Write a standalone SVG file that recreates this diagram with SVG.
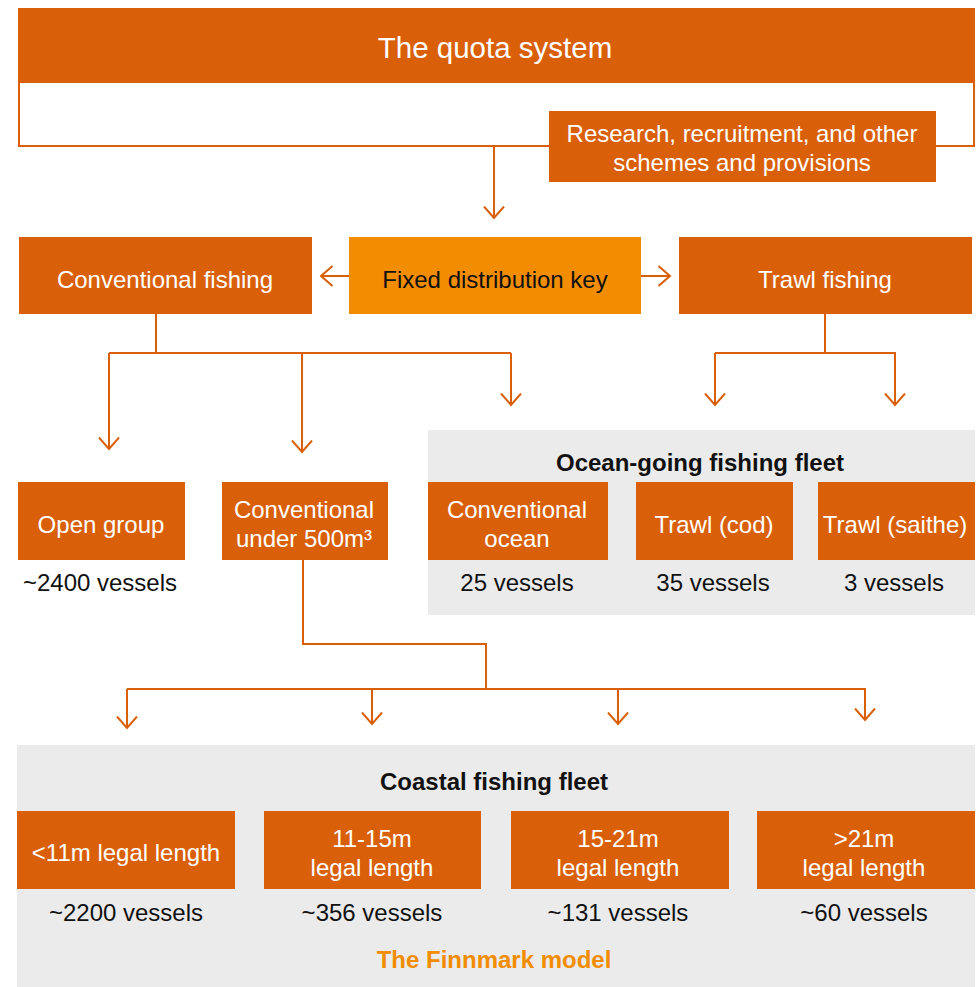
<svg xmlns="http://www.w3.org/2000/svg" width="979" height="987" viewBox="0 0 979 987">
<style>
.box{fill:#D95F09}
.key{fill:#F28C00}
.panel{fill:#EBEBEB}
.wt{fill:#ffffff;font-family:"Liberation Sans",Arial,sans-serif;font-size:24px;text-anchor:middle}
.bt{fill:#111111;font-family:"Liberation Sans",Arial,sans-serif;font-size:24px;text-anchor:middle}
.ttl{fill:#111111;font-family:"Liberation Sans",Arial,sans-serif;font-size:24px;font-weight:bold;text-anchor:middle}
.fin{fill:#F28C00;font-family:"Liberation Sans",Arial,sans-serif;font-size:24px;font-weight:bold;text-anchor:middle}
.ln{fill:none;stroke:#D95F09;stroke-width:2}
.arr{fill:none;stroke:#D95F09;stroke-width:2;marker-end:url(#ah)}
</style>
<defs>
<marker id="ah" markerUnits="userSpaceOnUse" viewBox="0 0 14 22" refX="12.5" refY="11" markerWidth="14" markerHeight="22" orient="auto">
<path d="M1,1 L12.5,11 L1,21" fill="none" stroke="#D95F09" stroke-width="2"/>
</marker>
</defs>

<g id="panel-ocean"><rect class="panel" x="428" y="430" width="547" height="185"/><text class="ttl" x="700" y="471">Ocean-going fishing fleet</text></g>
<g id="panel-coastal"><rect class="panel" x="17" y="745" width="958" height="242"/><text class="ttl" x="494" y="790">Coastal fishing fleet</text><text class="fin" x="494" y="968">The Finnmark model</text></g>

<g id="quota-system">
<rect x="19" y="9" width="955" height="137" fill="#ffffff" stroke="#D95F09" stroke-width="2"/>
<rect class="box" x="18" y="8" width="957" height="75"/>
<text class="wt" x="495" y="58" style="font-size:29.5px">The quota system</text>
</g>
<g id="research">
<rect class="box" x="549" y="111" width="387" height="71"/>
<text class="wt" x="742" y="142">Research, recruitment, and other</text>
<text class="wt" x="742" y="171">schemes and provisions</text>
</g>

<g id="conventional-fishing"><rect class="box" x="19" y="237" width="293" height="77"/><text class="wt" x="165" y="288">Conventional fishing</text></g>
<g id="fixed-key"><rect class="key" x="349" y="237" width="292" height="77"/><text class="bt" x="495" y="288">Fixed distribution key</text></g>
<g id="trawl-fishing"><rect class="box" x="679" y="237" width="293" height="77"/><text class="wt" x="825" y="288">Trawl fishing</text></g>

<g id="open-group"><rect class="box" x="18" y="482" width="167" height="78"/><text class="wt" x="101" y="533">Open group</text><text class="bt" x="100" y="591">~2400 vessels</text></g>
<g id="conv-under-500"><rect class="box" x="222" y="482" width="166" height="78"/><text class="wt" x="304" y="518">Conventional</text><text class="wt" x="304" y="547">under 500m³</text></g>
<g id="conv-ocean"><rect class="box" x="428" y="482" width="180" height="78"/><text class="wt" x="517" y="518">Conventional</text><text class="wt" x="517" y="547">ocean</text><text class="bt" x="517" y="591">25 vessels</text></g>
<g id="trawl-cod"><rect class="box" x="636" y="482" width="157" height="78"/><text class="wt" x="714" y="533">Trawl (cod)</text><text class="bt" x="713" y="591">35 vessels</text></g>
<g id="trawl-saithe"><rect class="box" x="818" y="482" width="157" height="78"/><text class="wt" x="895" y="533">Trawl (saithe)</text><text class="bt" x="894" y="591">3 vessels</text></g>

<g id="lt11"><rect class="box" x="17" y="811" width="218" height="78"/><text class="wt" x="126" y="861">&lt;11m legal length</text><text class="bt" x="126" y="921">~2200 vessels</text></g>
<g id="m11-15"><rect class="box" x="264" y="811" width="217" height="78"/><text class="wt" x="372" y="847">11-15m</text><text class="wt" x="372" y="876">legal length</text><text class="bt" x="372" y="921">~356 vessels</text></g>
<g id="m15-21"><rect class="box" x="511" y="811" width="218" height="78"/><text class="wt" x="618" y="847">15-21m</text><text class="wt" x="618" y="876">legal length</text><text class="bt" x="618" y="921">~131 vessels</text></g>
<g id="gt21"><rect class="box" x="757" y="811" width="218" height="78"/><text class="wt" x="864" y="847">&gt;21m</text><text class="wt" x="864" y="876">legal length</text><text class="bt" x="864" y="921">~60 vessels</text></g>

<g id="connectors">
<path class="arr" d="M494,146 V218"/>
<path class="arr" d="M349,276 H321"/>
<path class="arr" d="M641,276 H670"/>
<path class="ln" d="M156,314 V353 M109,353 H511"/>
<path class="arr" d="M109,353 V449"/>
<path class="arr" d="M302,353 V452"/>
<path class="arr" d="M511,353 V405"/>
<path class="ln" d="M825,314 V353 M715,353 H896"/>
<path class="arr" d="M715,353 V405"/>
<path class="arr" d="M895,353 V405"/>
<path class="ln" d="M303,560 V644 H486 V689 M127,689 H866"/>
<path class="arr" d="M127,689 V728"/>
<path class="arr" d="M372,689 V724"/>
<path class="arr" d="M618,689 V724"/>
<path class="arr" d="M865,689 V720"/>
</g>
</svg>
